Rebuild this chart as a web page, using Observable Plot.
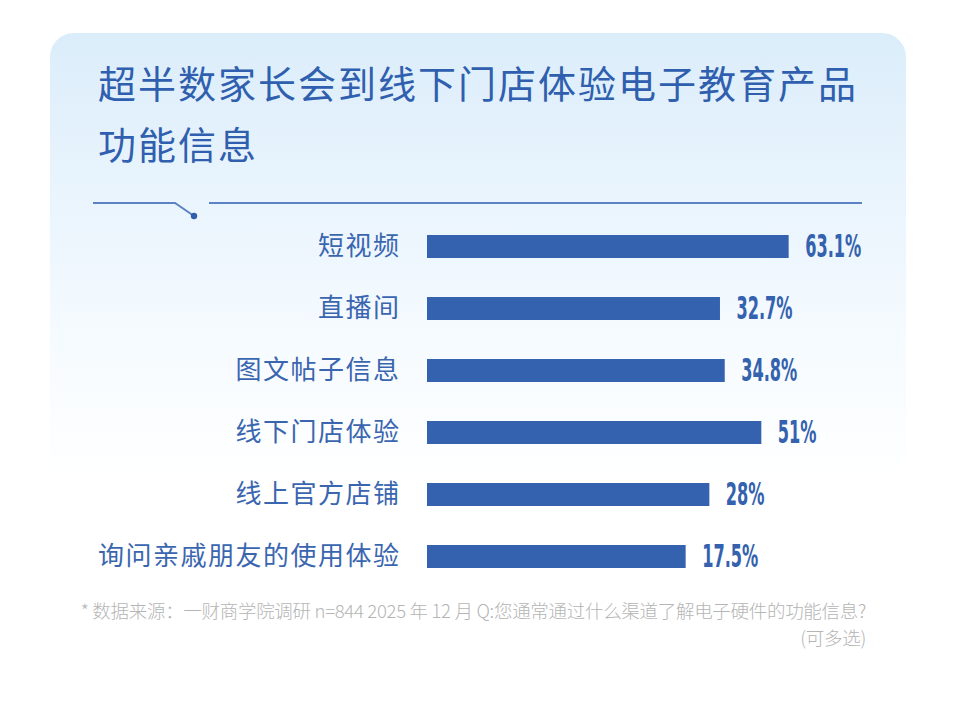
<!DOCTYPE html>
<html>
<head>
<meta charset="utf-8">
<script src="https://cdn.jsdelivr.net/npm/d3@7"></script>
<script src="https://cdn.jsdelivr.net/npm/@observablehq/plot@0.6"></script>
<style>
  html, body { margin: 0; padding: 0; background: #ffffff; }
  #root { position: relative; width: 960px; height: 710px; overflow: hidden; font-family: "Noto Sans CJK SC", "Noto Sans", sans-serif; }
  #card { position: absolute; left: 50px; top: 33px; width: 856px; height: 450px; border-radius: 24px;
          background: linear-gradient(180deg, #dbedfa 0%, #e9f4fd 35%, #f6fbff 70%, #ffffff 100%); }
  #title { position: absolute; left: 98px; top: 51px; width: 820px; font-size: 38px; line-height: 61px;
           color: #2f5fae; letter-spacing: 2px; font-weight: 400; }
  #divider { position: absolute; left: 0; top: 0; }
  #chart { position: absolute; left: 0; top: 200px; }
  #foot { position: absolute; right: 94px; top: 597px; text-align: right; font-size: 18.5px; line-height: 27px;
          color: #b5b5b5; letter-spacing: -0.3px; font-weight: 300; }
</style>
</head>
<body>
<div id="root">
  <div id="card"></div>
  <div id="title">超半数家长会到线下门店体验电子教育产品<br>功能信息</div>
  <svg id="divider" width="960" height="230">
    <polyline points="93,203 175,203 194,216" fill="none" stroke="#5b82c5" stroke-width="2"/>
    <circle cx="194" cy="216" r="3.2" fill="#2f5fae"/>
    <line x1="209" y1="203" x2="862" y2="203" stroke="#5b82c5" stroke-width="2"/>
  </svg>
  <div id="chart"></div>
  <div id="foot">* 数据来源：一财商学院调研 n=844 2025 年 12 月 Q:您通常通过什么渠道了解电子硬件的功能信息?<br>(可多选)</div>
</div>
<script>
const categories = ["短视频", "直播间", "图文帖子信息", "线下门店体验", "线上官方店铺", "询问亲戚朋友的使用体验"];
const values = [63.1, 32.7, 34.8, 51, 28, 17.5];
const valueLabels = ["63.1%", "32.7%", "34.8%", "51%", "28%", "17.5%"];

const data = categories.map((c, i) => ({category: c, value: values[i], label: valueLabels[i]}));
const baseline = -97; // the source chart's bars start from an offset baseline
const barColor = "#3462ae";

const chart = Plot.plot({
  width: 960,
  height: 400,
  marginLeft: 427,
  marginRight: 88,
  marginTop: 15.5,
  marginBottom: 12.5,
  style: {background: "transparent", color: "#3a66b0", fontFamily: "'Noto Sans CJK SC', sans-serif", overflow: "visible"},
  x: {domain: [baseline, 100], axis: null},
  y: {domain: categories, paddingInner: 0.63, paddingOuter: 0.315, label: null},
  marks: [
    Plot.barX(data, {y: "category", x1: baseline, x2: "value", fill: barColor}),
    Plot.axisY({tickSize: 0, tickPadding: 27, fontSize: 26, label: null}),
    Plot.text(data, {y: "category", x: "value", text: "label", dx: 16, textAnchor: "start",
      fill: barColor, fontSize: 29, fontWeight: "bold", className: "vlabel",
      fontFamily: "'Liberation Sans Narrow', 'DejaVu Sans Condensed', 'Roboto Condensed', sans-serif"})
  ]
});
document.getElementById("chart").appendChild(chart);
d3.select(chart).selectAll("[aria-label='y-axis tick label'] text").style("letter-spacing", "1.5px");
// condense the value labels horizontally (narrow numeral face in the source)
d3.select(chart).selectAll(".vlabel text").each(function() {
  const t = d3.select(this);
  const tr = t.attr("transform");
  if (tr) {
    t.attr("transform", tr + " scale(0.62,1.08)");
  } else {
    const x = +t.attr("x") || 0, y = +t.attr("y") || 0;
    t.attr("x", null).attr("y", null).attr("transform", `translate(${x},${y}) scale(0.62,1.08)`);
  }
});
</script>
</body>
</html>
